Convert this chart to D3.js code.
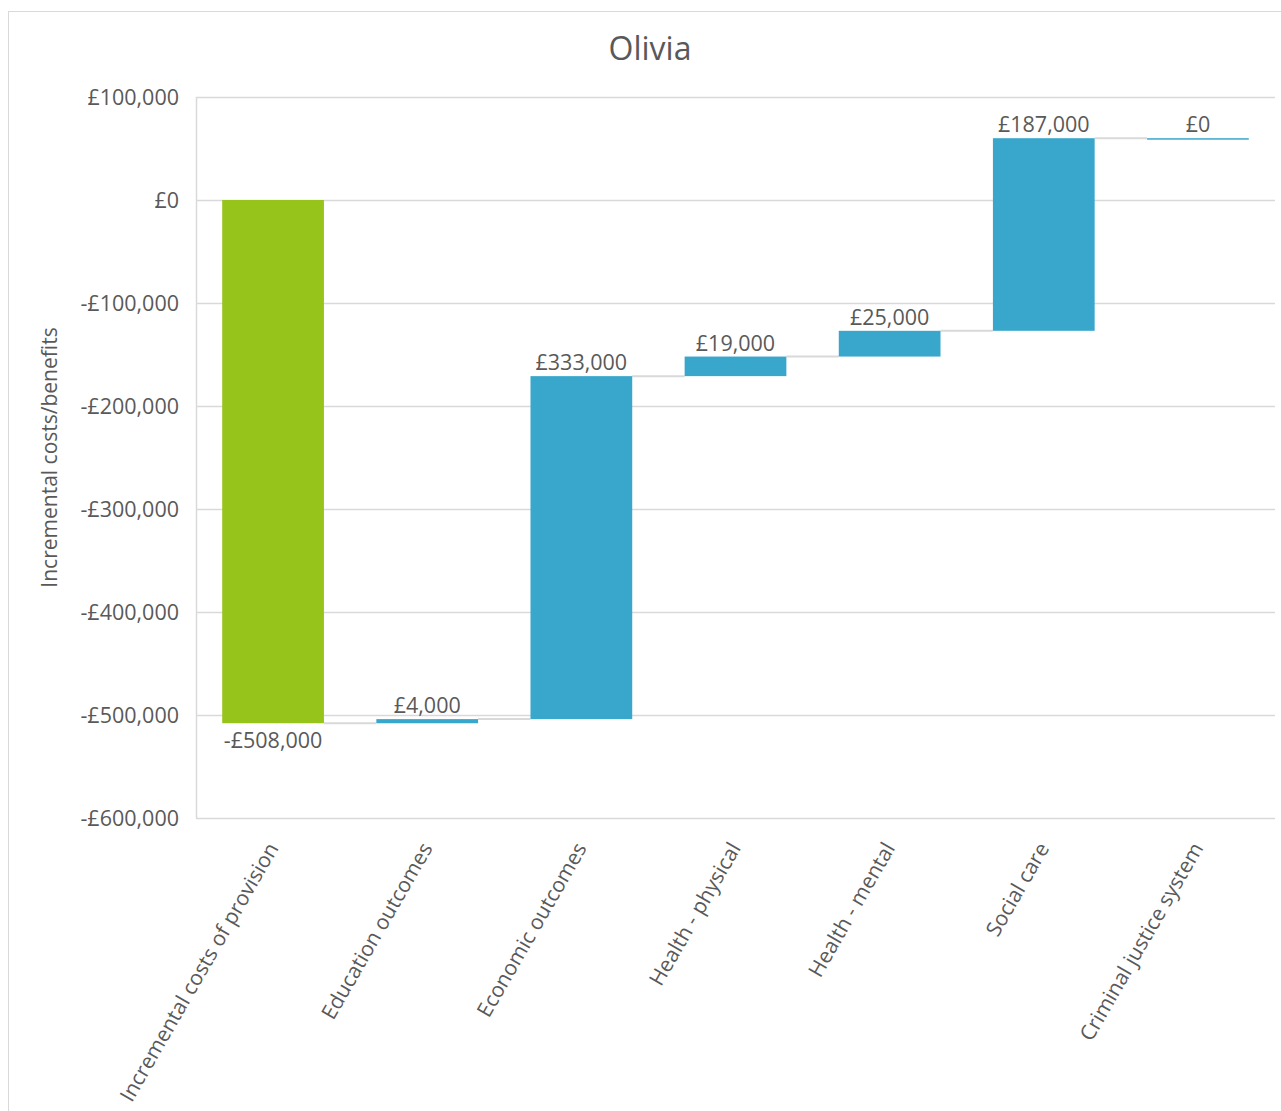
<!DOCTYPE html>
<html>
<head>
<meta charset="utf-8">
<script src="https://cdn.jsdelivr.net/npm/d3@7"></script>
<style>
  html, body { margin: 0; padding: 0; background: #fff; }
  svg { display: block; font-family: "Open Sans", sans-serif; }
</style>
</head>
<body>
<svg id="chart" width="1281" height="1111"></svg>
<script>
// Waterfall: incremental costs and benefits for Olivia
const chartTitle = "Olivia";
const yTitle = "Incremental costs/benefits";
const categories = [
  "Incremental costs of provision",
  "Education outcomes",
  "Economic outcomes",
  "Health - physical",
  "Health - mental",
  "Social care",
  "Criminal justice system"
];
const values = [-508000, 4000, 333000, 19000, 25000, 187000, 0];
const barKinds = ["cost", "benefit", "benefit", "benefit", "benefit", "benefit", "benefit"];
const yTicks = [100000, 0, -100000, -200000, -300000, -400000, -500000, -600000];

const colors = { cost: "#96c41a", benefit: "#39a7cc" };
const textColor = "#595959";
const gridColor = "#d9d9d9";

const svg = d3.select("#chart");

// outer chart frame
svg.append("rect")
  .attr("x", 8.5).attr("y", 11.5)
  .attr("width", 1290).attr("height", 1120)
  .attr("fill", "#fff").attr("stroke", "#d9d9d9").attr("stroke-width", 1);

const plot = { left: 196, right: 1275, top: 97, bottom: 818 };

const y = d3.scaleLinear().domain([-600000, 100000]).range([plot.bottom, plot.top]);
const x = d3.scaleBand().domain(categories).range([plot.left, plot.right])
  .paddingInner(0.34).paddingOuter(0.17);

// running totals
let running = 0;
const steps = categories.map((c, i) => {
  const start = running;
  running += values[i];
  return { cat: c, value: values[i], start, end: running, kind: barKinds[i] };
});

// gridlines
svg.append("g").selectAll("line").data(yTicks).join("line")
  .attr("x1", plot.left).attr("x2", plot.right)
  .attr("y1", d => Math.round(y(d)) + 0.5).attr("y2", d => Math.round(y(d)) + 0.5)
  .attr("stroke", gridColor).attr("stroke-width", 1.5);

// left axis line
svg.append("line")
  .attr("x1", plot.left + 0.5).attr("x2", plot.left + 0.5)
  .attr("y1", plot.top).attr("y2", plot.bottom)
  .attr("stroke", gridColor).attr("stroke-width", 1.5);

// y tick labels
const fmt = d => (d < 0 ? "-£" : "£") + d3.format(",")(Math.abs(d));
svg.append("g").selectAll("text").data(yTicks).join("text")
  .attr("x", plot.left - 17).attr("y", d => y(d))
  .attr("dy", "0.35em").attr("text-anchor", "end")
  .attr("font-size", 21.5).attr("fill", textColor)
  .text(fmt);

// connectors between bars
svg.append("g").selectAll("line").data(steps.slice(0, -1)).join("line")
  .attr("x1", d => x(d.cat) + x.bandwidth())
  .attr("x2", (d, i) => x(categories[i + 1]))
  .attr("y1", d => y(d.end)).attr("y2", d => y(d.end))
  .attr("stroke", gridColor).attr("stroke-width", 2);

// bars
svg.append("g").selectAll("rect").data(steps).join("rect")
  .attr("x", d => x(d.cat))
  .attr("width", x.bandwidth())
  .attr("y", d => y(Math.max(d.start, d.end)))
  .attr("height", d => Math.max(1.5, Math.abs(y(d.start) - y(d.end))))
  .attr("fill", d => colors[d.kind]);

// value labels
svg.append("g").selectAll("text").data(steps).join("text")
  .attr("x", d => x(d.cat) + x.bandwidth() / 2)
  .attr("y", d => d.value < 0 ? y(d.end) + 25 : y(d.end) - 6)
  .attr("text-anchor", "middle")
  .attr("font-size", 21.5).attr("fill", textColor)
  .text(d => fmt(d.value));

// category labels
svg.append("g").selectAll("text").data(categories).join("text")
  .attr("transform", d => `translate(${x(d) + x.bandwidth() / 2 + 6},${plot.bottom + 30}) rotate(-60)`)
  .attr("text-anchor", "end")
  .attr("font-size", 21).attr("fill", textColor)
  .text(d => d);

// y axis title
svg.append("text")
  .attr("transform", `translate(57,${(plot.top + plot.bottom) / 2}) rotate(-90)`)
  .attr("text-anchor", "middle")
  .attr("font-size", 21).attr("fill", textColor)
  .text(yTitle);

// chart title
svg.append("text")
  .attr("x", 650).attr("y", 60)
  .attr("text-anchor", "middle")
  .attr("font-size", 32).attr("fill", textColor)
  .text(chartTitle);
</script>
</body>
</html>
